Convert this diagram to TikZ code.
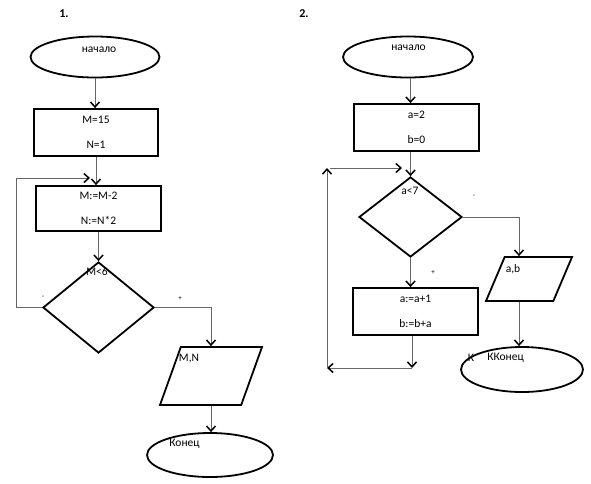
\documentclass[tikz,border=0pt]{standalone}
\usepackage{fontspec}
\setmainfont{Carlito}
\usetikzlibrary{shapes.geometric, arrows.meta}

\begin{document}
\begin{tikzpicture}[x=1pt, y=-1pt,
		font=\fontsize{11.5}{14}\selectfont,
		block/.style={draw, line width=1.8pt, inner sep=0pt},
		term/.style={block, ellipse},
		proc/.style={block, rectangle, align=center},
		cond/.style={block, diamond},
		io/.style={block, trapezium, trapezium stretches=true, inner sep=1pt},
		txt/.style={inner sep=0pt},
		sign/.style={inner sep=0pt, font=\fontsize{7}{8}\selectfont},
		link/.style={line width=1pt, black!60},
		arr/.style={link, -{Straight Barb[length=5pt, width=9pt, line width=1.5pt, color=black]}}]
		
		\useasboundingbox (0,0) rectangle (591,483);
		
		\node[txt, font=\fontsize{12}{14}\selectfont\bfseries] (num1) at (64,14) {1.};
		\node[txt, font=\fontsize{12}{14}\selectfont\bfseries] (num2) at (304,14) {2.};
		
		\node[term, minimum width=129, minimum height=41] (start1) at (95,57) {};
		\node[txt] (start1t) at (99,50) {начало};
		\node[proc, minimum width=124, minimum height=47] (init1) at (96,132.5) {M=15\\[11pt]N=1};
		\node[proc, minimum width=125, minimum height=45] (body1) at (98.5,208.5) {M:=M-2\\[11pt]N:=N*2};
		\node[cond, minimum width=111, minimum height=91] (cond1) at (98.5,307.5) {};
		\node[txt] (cond1t) at (97,272) {M<6};
		\node[io, trapezium left angle=71, trapezium right angle=109,
			minimum width=102, minimum height=58] (out1) at (211,376) {};
		\node[txt] (out1t) at (189,359) {M,N};
		\node[term, minimum width=126, minimum height=44] (end1) at (210,455) {};
		\node[txt] (end1t) at (184.5,444) {Конец};
		\node[sign] (no1) at (43,297) {-};
		\node[sign] (yes1) at (180,299) {+};
		\coordinate (loop1) at (16,178);
		\coordinate (back1) at (90,178);
		
		\draw[arr] (start1.south) -- (start1.south |- init1.north);
		\draw[arr] (init1.south) -- (init1.south |- body1.north);
		\draw[arr] (body1.south) -- (cond1.north);
		\draw[link] (cond1.west) -| (loop1);
		\draw[arr] (loop1) -- (back1);
		\draw[arr] (cond1.east) -| (out1.north);
		\draw[arr] (out1.south) -- (out1.south |- end1.north);
		
		\node[term, minimum width=130, minimum height=41] (start2) at (408,57) {};
		\node[txt] (start2t) at (408.5,48) {начало};
		\node[proc, minimum width=125, minimum height=47] (init2) at (416.5,127.5) {a=2\\[11pt]b=0};
		\node[cond, minimum width=103, minimum height=80] (cond2) at (410.5,217) {};
		\node[txt] (cond2t) at (410,191) {a<7};
		\node[proc, minimum width=125, minimum height=47] (body2) at (415.5,311.5) {a:=a+1\\[11pt]b:=b+a};
		\node[io, trapezium left angle=69, trapezium right angle=111,
			minimum width=86, minimum height=44] (out2) at (529,279) {};
		\node[txt] (out2t) at (513,269) {a,b};
		\node[term, minimum width=122, minimum height=45] (end2) at (522,369.5) {};
		\node[txt] (end2t) at (505.5,358) {ККонец};
		\node[txt] (end2k) at (471,358) {К};
		\node[sign] (no2) at (474,196) {-};
		\node[sign] (yes2) at (433,273) {+};
		\coordinate (join2) at (412,368);
		\coordinate (loop2) at (327,368);
		\coordinate (top2) at (327,168);
		\coordinate (from2) at (330,168);
		\coordinate (back2) at (402,168);
		
		\draw[arr] (cond2.north |- start2.south) -- (cond2.north |- init2.north);
		\draw[arr] (cond2.north |- init2.south) -- (cond2.north);
		\draw[arr] (cond2.east) -| ([xshift=-10pt]out2.north);
		\draw[arr] (cond2.south) -- (cond2.south |- body2.north);
		\draw[arr] (join2 |- body2.south) -- (join2);
		\draw[arr] (join2) -- (loop2);
		\draw[arr] (loop2) -- (top2);
		\draw[arr] (from2) -- (back2);
		\draw[arr] ([xshift=-10pt]out2.south) -- ([xshift=-10pt]out2.south |- end2.north);
	\end{tikzpicture}
\end{document}
